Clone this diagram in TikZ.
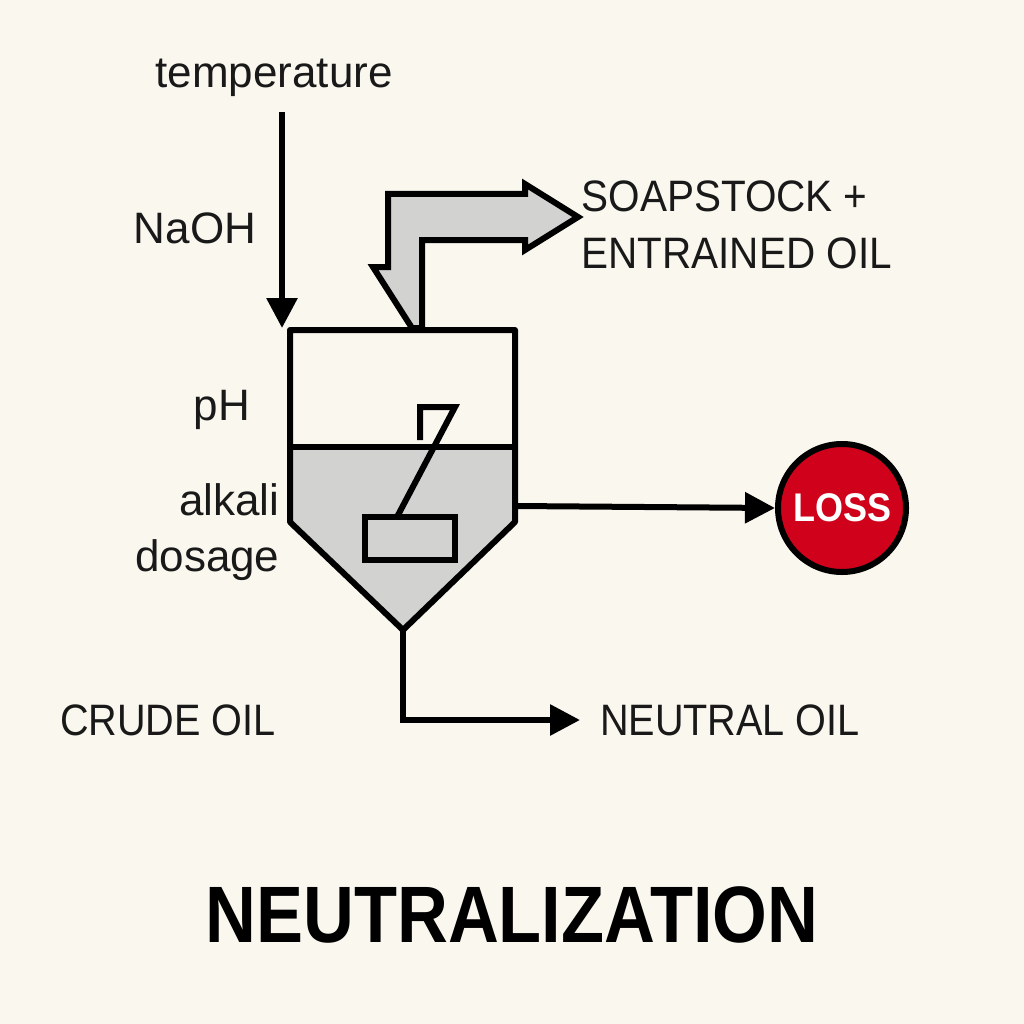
\documentclass[tikz,border=0pt]{standalone}
\usepackage{fontspec}
\setmainfont{Liberation Sans}
\usetikzlibrary{arrows.meta}
\definecolor{bg}{HTML}{FAF7EE}
\definecolor{liq}{HTML}{D2D2D0}
\definecolor{lossred}{HTML}{D0021B}
\begin{document}
\begin{tikzpicture}[x=1pt,y=-1pt,
  ln/.style={line width=6pt,black},
  arr/.style={ln,-{Triangle[length=30pt,width=30pt]}},
  lbl/.style={font=\fontsize{44}{50}\selectfont,text=black!90}]
\fill[bg] (0,0) rectangle (1024,1024);
\useasboundingbox (0,0) rectangle (1024,1024);
% liquid
\fill[liq] (290,447) -- (515,447) -- (515,522) -- (403,630) -- (290,522) -- cycle;
\draw[ln,line join=round] (290,330) -- (515,330) -- (515,522) -- (403,630) -- (290,522) -- cycle;
\draw[ln] (290,447) -- (515,447);
% agitator
\draw[ln,line join=miter] (420,440) -- (420,407) -- (455,407) -- (397,517);
\draw[ln,fill=liq] (365,517) rectangle (455,560);
% soapstock arrow
\draw[line width=6pt,fill=liq,line join=miter] (388,194) -- (525,194) -- (525,184) -- (578,217) -- (525,250) -- (525,240) -- (422,240) -- (422,328) -- (412,328) -- (373,267) -- (388,267) -- cycle;
% nodes
\node[lbl] (temp) at (274,78) {temperature};
\coordinate (tin) at (282,112);
\coordinate (tank) at (282,328);
\draw[arr] (tin) -- (tank);
\node[lbl] (naoh) at (195,228) {NaOH};
\node[lbl] (ph) at (222,410) {pH};
\node[lbl,align=right,font=\fontsize{44}{56}\selectfont,anchor=east] (alk) at (283,532) {alkali\\dosage};
\node[lbl,anchor=west] (soap) at (578,196) {\scalebox{0.92}[1]{SOAPSTOCK +}};
\node[lbl,anchor=west] (ent) at (578,253) {\scalebox{0.92}[1]{ENTRAINED OIL}};
\node[circle,draw=black,line width=6pt,fill=lossred,minimum size=128pt,text=white,font=\bfseries\fontsize{40}{44}\selectfont] (loss) at (842,508) {\scalebox{0.9}[1]{LOSS}};
\coordinate (side) at (515,506);
\draw[arr] (side) -- (loss.west);
\coordinate (bot) at (403,630);
\coordinate (bend) at (403,720);
\coordinate (nout) at (580,720);
\draw[arr] (bot) -- (bend) -- (nout);
\node[lbl] (neut) at (730,720) {\scalebox{0.9}[1]{NEUTRAL OIL}};
\node[lbl] (crude) at (168,720) {\scalebox{0.9}[1]{CRUDE OIL}};
\node[font=\bfseries\fontsize{80}{86}\selectfont] (title) at (512,915) {\scalebox{0.88}[1]{NEUTRALIZATION}};
\end{tikzpicture}
\end{document}
